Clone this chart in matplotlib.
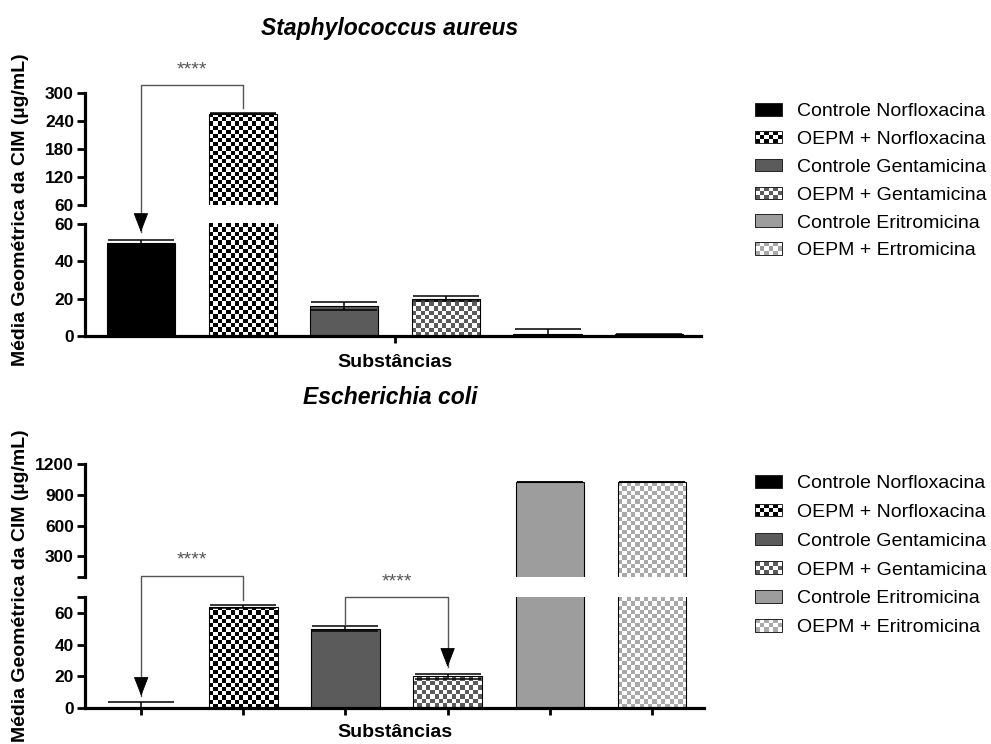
import numpy as np
import matplotlib
matplotlib.use("Agg")
import matplotlib.pyplot as plt
from matplotlib.colors import ListedColormap
from matplotlib.patches import Patch, Rectangle
from matplotlib.legend_handler import HandlerBase

plt.rcParams['font.family'] = ['Liberation Sans', 'DejaVu Sans']

# ---------------- data ----------------
labels_sa = ['Controle Norfloxacina', 'OEPM + Norfloxacina', 'Controle Gentamicina',
             'OEPM + Gentamicina', 'Controle Eritromicina', 'OEPM + Ertromicina']
labels_ec = ['Controle Norfloxacina', 'OEPM + Norfloxacina', 'Controle Gentamicina',
             'OEPM + Gentamicina', 'Controle Eritromicina', 'OEPM + Eritromicina']
sa_values = [50, 256, 16, 20, 1, 1]
sa_errors = [1.5, 1.5, 2, 1.5, 3, 0.3]
ec_values = [0, 64, 50, 20, 1024, 1024]
ec_errors = [4, 1, 1.5, 1.5, 3, 3]

title_sa = 'Staphylococcus aureus'
title_ec = 'Escherichia coli'
xlabel = 'Substâncias'
ylabel = 'Média Geométrica da CIM (µg/mL)'
sig_text = '****'

# styles
bar_colors = ['#000000', '#000000', '#5b5b5b', '#5b5b5b', '#9d9d9d', '#a9a9a9']
checkered = [False, True, False, True, False, True]

W, H = 991, 744
fig = plt.figure(figsize=(W / 100, H / 100), dpi=100)


def ax_px(left, top, right, bottom):
    return fig.add_axes([left / W, 1 - bottom / H, (right - left) / W, (bottom - top) / H])


def checker_fill(ax, bar, color, cell=4.25):
    x0, y0 = bar.get_x(), bar.get_y()
    w, h = bar.get_width(), bar.get_height()
    ylo, yhi = ax.get_ylim()
    vy0, vy1 = max(y0, ylo), min(y0 + h, yhi)
    if vy1 <= vy0:
        return
    p0 = ax.transData.transform((x0, vy0))
    p1 = ax.transData.transform((x0 + w, vy1))
    nx = max(1, int(round((p1[0] - p0[0]) / cell)))
    ny = max(1, int(round((p1[1] - p0[1]) / cell)))
    grid = np.add.outer(np.arange(ny), np.arange(nx)) % 2
    im = ax.imshow(grid, extent=(x0, x0 + w, vy0, vy1), origin='lower',
                   cmap=ListedColormap(['white', color]), interpolation='nearest',
                   aspect='auto', zorder=1.5)
    im.set_clip_path(bar)


def draw_bars(ax, values, errors, ylim):
    x = np.arange(len(values))
    ax.set_xlim(-0.55, len(values) - 0.49)
    ax.set_ylim(*ylim)
    faces = [('none' if c else col) for col, c in zip(bar_colors, checkered)]
    bars = ax.bar(x, values, width=0.67, color=faces, edgecolor='black',
                  linewidth=0.8, zorder=2)
    for b, col, c in zip(bars, bar_colors, checkered):
        if c:
            checker_fill(ax, b, col)
    ax.errorbar(x, values, yerr=errors, fmt='none', ecolor='black', elinewidth=1.1,
                capsize=24, capthick=1.1, zorder=3)
    for s in ('top', 'right'):
        ax.spines[s].set_visible(False)
    for s in ('left', 'bottom'):
        ax.spines[s].set_linewidth(2.3)
    ax.tick_params(axis='y', direction='out', length=6, width=2, labelsize=12.5, pad=2)
    return x


def style_hi(ax):
    ax.spines['bottom'].set_visible(False)
    ax.set_xticks([])


def bracket(ax, x_from, y_from, x_to, y_top, y_tip, y_text):
    ax.plot([x_from, x_from, x_to, x_to], [y_from, y_top, y_top, y_tip + 1e-9],
            color='#555555', lw=1.0, clip_on=False, zorder=4)
    ax.annotate('', xy=(x_to, y_tip), xytext=(0, 13), textcoords='offset points',
                annotation_clip=False,
                arrowprops=dict(arrowstyle='-|>,head_length=0.62,head_width=0.24',
                                mutation_scale=20, fc='black', ec='black', lw=0.6,
                                shrinkA=0, shrinkB=0), zorder=5)
    ax.text((x_from + x_to) / 2, y_text, sig_text, ha='center', va='center',
            fontsize=14, color='#555555', clip_on=False)


class CheckerPatch(Patch):
    pass


class HandlerChecker(HandlerBase):
    def create_artists(self, legend, orig_handle, xdescent, ydescent, width, height,
                       fontsize, trans):
        color = orig_handle.get_facecolor()
        x0, y0 = -xdescent, -ydescent
        arts = [Rectangle((x0, y0), width, height, facecolor='white', edgecolor='none',
                          transform=trans)]
        nx, ny = 6, 3
        cw, ch = width / nx, height / ny
        for i in range(ny):
            for j in range(nx):
                if (i + j) % 2 == 0:
                    arts.append(Rectangle((x0 + j * cw, y0 + i * ch), cw, ch,
                                          facecolor=color, edgecolor='none', transform=trans))
        arts.append(Rectangle((x0, y0), width, height, facecolor='none',
                              edgecolor='#222222', lw=0.7, transform=trans))
        return arts


class HandlerSolid(HandlerBase):
    def create_artists(self, legend, orig_handle, xdescent, ydescent, width, height,
                       fontsize, trans):
        return [Rectangle((-xdescent, -ydescent), width, height,
                          facecolor=orig_handle.get_facecolor(), edgecolor='#222222',
                          lw=0.7, transform=trans)]


def add_legend(labels, anchor_px, spacing):
    handles = []
    for col, c in zip(bar_colors, checkered):
        if c:
            handles.append(CheckerPatch(facecolor=col))
        else:
            handles.append(Patch(facecolor=col))
    leg = fig.legend(handles, labels, loc='upper left',
                     bbox_to_anchor=(anchor_px[0] / W, 1 - anchor_px[1] / H),
                     frameon=False, fontsize=14, handlelength=1.4, handleheight=0.62,
                     handletextpad=0.75, labelspacing=spacing, borderpad=0, borderaxespad=0,
                     handler_map={CheckerPatch: HandlerChecker(), Patch: HandlerSolid()})
    return leg


# ---------------- Staphylococcus aureus ----------------
sa_hi = ax_px(85, 93, 701, 205)
sa_lo = ax_px(85, 224, 701, 336)
draw_bars(sa_hi, sa_values, sa_errors, (60, 300))
style_hi(sa_hi)
sa_hi.set_yticks([60, 120, 180, 240, 300])
xs = draw_bars(sa_lo, sa_values, sa_errors, (0, 60))
sa_lo.set_yticks([0, 20, 40, 60])
sa_lo.set_xticks([(len(sa_values) - 1) / 2])
sa_lo.set_xticklabels([''])
sa_lo.tick_params(axis='x', direction='out', length=5, width=2)
for lab in sa_lo.get_yticklabels() + sa_hi.get_yticklabels():
    lab.set_fontweight('bold')
bracket(sa_lo, xs[1], 122, xs[0], 134.5, 55.7, 142.5)

# ---------------- Escherichia coli ----------------
ec_hi = ax_px(85, 464, 704, 577)
ec_lo = ax_px(85, 597, 704, 708)
draw_bars(ec_hi, ec_values, ec_errors, (100, 1200))
style_hi(ec_hi)
ec_hi.set_yticks([100, 300, 600, 900, 1200])
ec_hi.set_yticklabels(['', '300', '600', '900', '1200'])
xs = draw_bars(ec_lo, ec_values, ec_errors, (0, 70))
ec_lo.set_yticks([0, 20, 40, 60, 70])
ec_lo.set_yticklabels(['0', '20', '40', '60', ''])
ec_lo.set_xticks(xs)
ec_lo.set_xticklabels([''] * len(xs))
ec_lo.tick_params(axis='x', direction='out', length=5, width=2)
for lab in ec_lo.get_yticklabels() + ec_hi.get_yticklabels():
    lab.set_fontweight('bold')
bracket(ec_lo, xs[1], 68.2, xs[0], 83.4, 7.6, 93.5)
bracket(ec_lo, xs[2], 52.4, xs[3], 70.1, 25.9, 79.6)

# ---------------- texts ----------------
fig.text(390 / W, 1 - 35 / H, title_sa, ha='center', va='baseline', fontsize=16.5,
         fontweight='bold', fontstyle='italic')
fig.text(390 / W, 1 - 404 / H, title_ec, ha='center', va='baseline', fontsize=16.5,
         fontweight='bold', fontstyle='italic')
fig.text(395 / W, 1 - 367 / H, xlabel, ha='center', va='baseline', fontsize=14,
         fontweight='bold')
fig.text(395 / W, 1 - 737 / H, xlabel, ha='center', va='baseline', fontsize=14,
         fontweight='bold')
fig.text(21 / W, 1 - 210 / H, ylabel, ha='center', va='center', rotation=90,
         fontsize=14, fontweight='bold')
fig.text(21 / W, 1 - 586 / H, ylabel, ha='center', va='center', rotation=90,
         fontsize=14, fontweight='bold')

add_legend(labels_sa, (755, 103), 0.55)
add_legend(labels_ec, (755, 475), 0.60)

fig.savefig('out.png', dpi=100, facecolor='white')
